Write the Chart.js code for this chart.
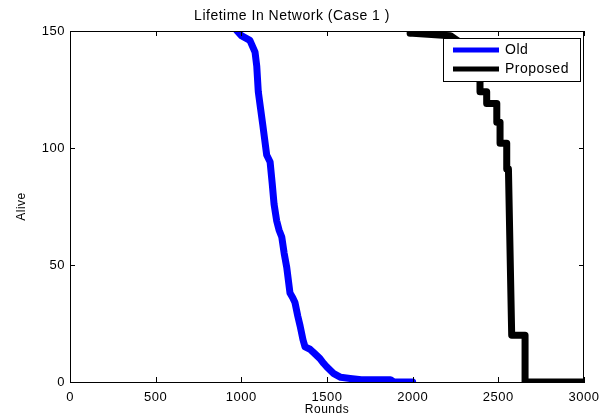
<!DOCTYPE html>
<html>
<head>
<meta charset="utf-8">
<script src="https://cdn.jsdelivr.net/npm/chart.js@4"></script>
<style>
  html, body { margin: 0; padding: 0; background: #fff; }
  #wrap { width: 611px; height: 419px; }
</style>
</head>
<body>
<div id="wrap"><canvas id="myChart"></canvas></div>
<script>
const oldRounds = [975, 1000, 1050, 1080, 1090, 1099, 1112, 1125, 1148, 1168, 1180, 1191, 1206, 1220, 1236, 1250, 1265, 1284, 1300, 1313, 1330, 1343, 1360, 1372, 1401, 1430, 1459, 1480, 1498, 1537, 1580, 1635, 1700, 1870, 1890, 2000];
const oldAlive  = [150, 148, 146, 141, 135, 124, 117, 110, 97, 94, 85, 76, 69, 65, 62, 55, 49, 38, 36, 34, 28, 24, 18, 15, 14, 12, 10, 8, 6.5, 3.7, 2, 1.5, 1, 1, 0, 0];

const propRounds = [1985, 2000, 2220, 2260, 2300, 2340, 2380, 2393, 2393, 2432, 2432, 2491, 2491, 2510, 2510, 2549, 2549, 2559, 2578, 2656, 2656, 3000];
const propAlive  = [149, 149, 148, 146, 142, 138, 133, 129, 124, 124, 119, 119, 111, 111, 102, 102, 91, 91, 20, 20, 0, 0];

const xTicks = [0, 500, 1000, 1500, 2000, 2500, 3000];
const yTicks = [0, 50, 100, 150];

const FONT = 'Liberation Sans, Arial, sans-serif';

function toPoints(xs, ys) {
  return xs.map((x, i) => ({ x: x, y: ys[i] }));
}

// the source text is a bit wide, so space the letters out slightly
const spacing = {
  id: 'spacing',
  beforeDraw(chart) {
    chart.ctx.letterSpacing = '0.5px';
  }
};

// box round the axes plus inward ticks, the matlab way
const axesBox = {
  id: 'axesBox',
  afterDraw(chart) {
    const { ctx, chartArea: a, scales } = chart;
    ctx.save();
    ctx.strokeStyle = '#000';
    ctx.lineWidth = 1;
    ctx.strokeRect(a.left + 0.5, a.top + 0.5, a.right - a.left - 1, a.bottom - a.top);
    ctx.beginPath();
    xTicks.forEach(v => {
      const px = Math.round(scales.x.getPixelForValue(v)) + 0.5;
      ctx.moveTo(px, a.bottom); ctx.lineTo(px, a.bottom - 5);
      ctx.moveTo(px, a.top); ctx.lineTo(px, a.top + 5);
    });
    yTicks.forEach(v => {
      const py = Math.round(scales.y.getPixelForValue(v)) + 0.5;
      ctx.moveTo(a.left, py); ctx.lineTo(a.left + 5, py);
      ctx.moveTo(a.right, py); ctx.lineTo(a.right - 5, py);
    });
    ctx.stroke();
    ctx.restore();
  }
};

// legend sitting inside the top right corner
const boxLegend = {
  id: 'boxLegend',
  afterDatasetsDraw(chart) {
    const { ctx, chartArea: a } = chart;
    const w = 137, h = 43;
    const left = a.right - 141, top = a.top + 7;
    ctx.save();
    ctx.fillStyle = '#fff';
    ctx.fillRect(left, top, w, h);
    ctx.strokeStyle = '#000';
    ctx.lineWidth = 1;
    ctx.strokeRect(left + 0.5, top + 0.5, w, h);
    ctx.font = '14px ' + FONT;
    ctx.textBaseline = 'middle';
    chart.data.datasets.forEach((ds, i) => {
      const y = top + 12 + i * 19;
      ctx.strokeStyle = ds.borderColor;
      ctx.lineWidth = 5;
      ctx.beginPath();
      ctx.moveTo(left + 10, y);
      ctx.lineTo(left + 56, y);
      ctx.stroke();
      ctx.fillStyle = '#000';
      ctx.fillText(ds.label, left + 62, y + 0.5);
    });
    ctx.restore();
  }
};

const ctx = document.getElementById('myChart');

new Chart(ctx, {
  type: 'line',
  data: {
    datasets: [{
      label: 'Old',
      data: toPoints(oldRounds, oldAlive),
      borderColor: '#0000ff',
      borderWidth: 7,
      borderCapStyle: 'round',
      borderJoinStyle: 'round',
      pointRadius: 0,
      clip: 0
    }, {
      label: 'Proposed',
      data: toPoints(propRounds, propAlive),
      borderColor: '#000000',
      borderWidth: 7,
      borderCapStyle: 'round',
      borderJoinStyle: 'round',
      pointRadius: 0,
      clip: 0
    }]
  },
  options: {
    responsive: true,
    maintainAspectRatio: false,
    animation: false,
    layout: { padding: { left: 0, right: 27, top: 0, bottom: 0 } },
    plugins: {
      legend: { display: false },
      tooltip: { enabled: false },
      title: {
        display: true,
        text: 'Lifetime In Network (Case 1 )',
        color: '#000',
        font: { family: FONT, size: 14, weight: 'normal' },
        padding: { top: 8, bottom: 6.2 }
      }
    },
    scales: {
      x: {
        type: 'linear',
        min: 0,
        max: 3000,
        afterBuildTicks: s => { s.ticks = xTicks.map(v => ({ value: v })); },
        afterFit: s => { s.height = 37; },
        grid: { display: false, drawTicks: false },
        border: { display: true, color: '#000' },
        ticks: { color: '#000', padding: 8, maxRotation: 0, callback: v => String(v), font: { family: FONT, size: 13 } },
        title: {
          display: true, text: 'Rounds', color: '#000',
          font: { family: FONT, size: 12 }, padding: { top: 0, bottom: 2 }
        }
      },
      y: {
        min: 0,
        max: 150,
        afterBuildTicks: s => { s.ticks = yTicks.map(v => ({ value: v })); },
        afterFit: s => { s.width = 70; },
        grid: { display: false, drawTicks: false },
        border: { display: true, color: '#000' },
        ticks: { color: '#000', padding: 5, callback: v => String(v), font: { family: FONT, size: 13 } },
        title: {
          display: true, text: 'Alive', color: '#000',
          font: { family: FONT, size: 12 }, padding: { top: 14, bottom: 0 }
        }
      }
    }
  },
  plugins: [spacing, axesBox, boxLegend]
});
</script>
</body>
</html>
